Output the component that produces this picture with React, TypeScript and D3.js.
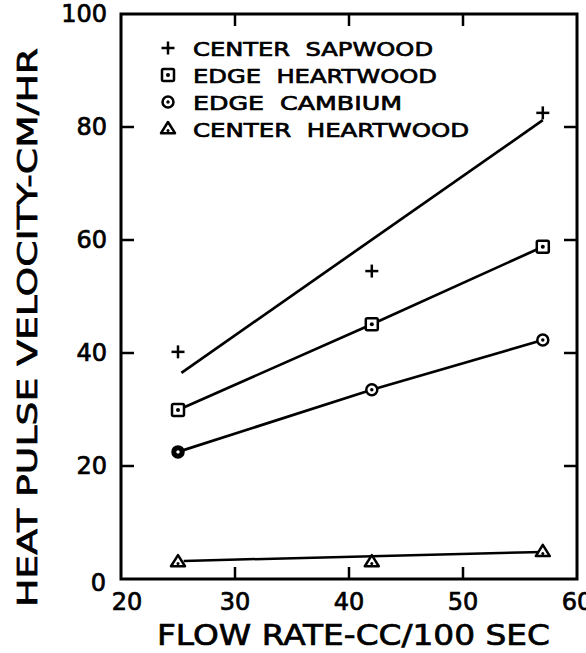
import React from "react";
import * as d3 from "d3";

const flowRates = [25, 42, 57];
const centerSapwood = [40.2, 54.5, 82.5];
const edgeHeartwood = [29.9, 45.1, 58.8];
const edgeCambium = [22.5, 33.5, 42.3];
const centerHeartwood = [3.0, 3.0, 4.8];

const sapwoodFit: [number, number][] = [[25.3, 36.5], [57, 81.2]];
const heartwoodFit: [number, number][] = [[25.5, 3.2], [57, 4.8]];

const xTicks = [20, 30, 40, 50, 60];
const yTicks = [0, 20, 40, 60, 80, 100];

const legendLabels = ["CENTER  SAPWOOD", "EDGE  HEARTWOOD", "EDGE  CAMBIUM", "CENTER  HEARTWOOD"];
const legendLengths = [240, 244, 209, 276];

const W = 586, H = 653;
const FONT = "'DejaVu Sans', sans-serif";

export default function App() {
  const x = d3.scaleLinear().domain([20, 60]).range([121, 577]);
  const y = d3.scaleLinear().domain([0, 100]).range([579, 14]);
  const line = d3.line<[number, number]>().x(d => x(d[0])).y(d => y(d[1]));
  const pts = (vals: number[]) => flowRates.map((f, i) => [f, vals[i]] as [number, number]);

  const marker = (kind: string, cx: number, cy: number, key: string, filled = false) => {
    const sw = 2.5;
    if (kind === "plus") {
      return (
        <g key={key} stroke="#000" strokeWidth={2.5}>
          <line x1={cx - 6.5} x2={cx + 6.5} y1={cy} y2={cy} />
          <line x1={cx} x2={cx} y1={cy - 6.5} y2={cy + 6.5} />
        </g>
      );
    }
    if (kind === "square") {
      return (
        <g key={key}>
          <rect x={cx - 6} y={cy - 6} width={12} height={12} rx={1.5} fill="#fff" stroke="#000" strokeWidth={sw} />
          <circle cx={cx} cy={cy} r={2} fill="#000" />
        </g>
      );
    }
    if (kind === "circle") {
      return (
        <g key={key}>
          <circle cx={cx} cy={cy} r={5.5} fill={filled ? "#000" : "#fff"} stroke="#000" strokeWidth={sw} />
          <circle cx={cx} cy={cy} r={1.7} fill={filled ? "#fff" : "#000"} />
        </g>
      );
    }
    const s = 7;
    return (
      <g key={key}>
        <path d={`M${cx},${cy - s} L${cx + s},${cy + s * 0.6} L${cx - s},${cy + s * 0.6} Z`} fill="#fff" stroke="#000" strokeWidth={sw} strokeLinejoin="round" />
        <circle cx={cx} cy={cy + 1.5} r={1.5} fill="#000" />
      </g>
    );
  };

  const series = [
    { vals: centerSapwood, kind: "plus" },
    { vals: edgeHeartwood, kind: "square" },
    { vals: edgeCambium, kind: "circle" },
    { vals: centerHeartwood, kind: "triangle" },
  ];

  const legendY = [48, 75, 102, 129];
  const textStroke = { stroke: "#000", strokeWidth: 0.7 };

  return (
    <svg width={W} height={H} style={{ position: "absolute", left: 0, top: 0, background: "#fff" }} fontFamily={FONT}>
      <rect width={W} height={H} fill="#fff" />
      {/* frame */}
      <rect x={x(20)} y={y(100)} width={x(60) - x(20)} height={y(0) - y(100)} fill="none" stroke="#000" strokeWidth={3} />
      {/* ticks */}
      {xTicks.slice(1, -1).map(t => (
        <g key={"xt" + t} stroke="#000" strokeWidth={2.5}>
          <line x1={x(t)} x2={x(t)} y1={y(0)} y2={y(0) - 12} />
          <line x1={x(t)} x2={x(t)} y1={y(100)} y2={y(100) + 12} />
        </g>
      ))}
      {yTicks.slice(1, -1).map(t => (
        <g key={"yt" + t} stroke="#000" strokeWidth={2.5}>
          <line x1={x(20)} x2={x(20) + 13} y1={y(t)} y2={y(t)} />
          <line x1={x(60)} x2={x(60) - 13} y1={y(t)} y2={y(t)} />
        </g>
      ))}
      {/* tick labels */}
      {xTicks.map(t => (
        <text key={"xl" + t} x={t === 20 ? x(t) + 6 : x(t)} y={610} textAnchor="middle" fontSize={24} {...textStroke}>{t}</text>
      ))}
      {yTicks.map(t => (
        <text key={"yl" + t} x={t === 0 ? 106 : 107} y={y(t) + (t === 0 ? 12 : 8)} textAnchor="end" fontSize={24} {...textStroke}>{t}</text>
      ))}
      {/* axis titles */}
      <text x={157} y={645} fontSize={29} textLength={393} lengthAdjust="spacingAndGlyphs" {...textStroke}>FLOW RATE-CC/100 SEC</text>
      <text transform={`translate(37,607) rotate(-90)`} fontSize={27} textLength={559} lengthAdjust="spacingAndGlyphs" {...textStroke}>HEAT PULSE VELOCITY-CM/HR</text>
      {/* lines */}
      <path d={line(sapwoodFit) || ""} fill="none" stroke="#000" strokeWidth={2.7} />
      <path d={line(pts(edgeHeartwood)) || ""} fill="none" stroke="#000" strokeWidth={2.7} />
      <path d={line(pts(edgeCambium)) || ""} fill="none" stroke="#000" strokeWidth={2.7} />
      <path d={line(heartwoodFit) || ""} fill="none" stroke="#000" strokeWidth={2.5} />
      {/* markers */}
      {series.map((s, si) =>
        s.vals.map((v, i) => marker(s.kind, x(flowRates[i]), y(v), `m${si}-${i}`, s.kind === "circle" && i === 0))
      )}
      {/* legend */}
      {series.map((s, i) => (
        <g key={"lg" + i}>
          {marker(s.kind, 168, legendY[i], "lm" + i)}
          <text x={193} y={legendY[i] + 8} fontSize={20} textLength={legendLengths[i]} lengthAdjust="spacingAndGlyphs" style={{ whiteSpace: "pre" }} {...textStroke}>{legendLabels[i]}</text>
        </g>
      ))}
    </svg>
  );
}
